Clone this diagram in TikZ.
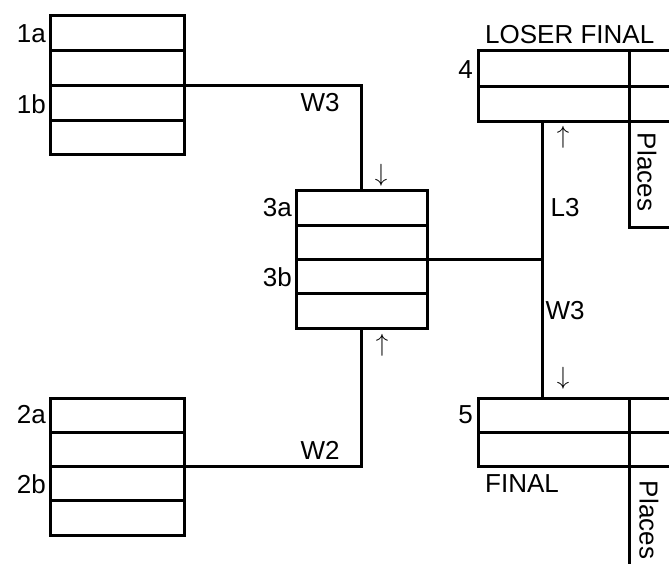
\documentclass[tikz,border=0pt]{standalone}
\usepackage{fontspec}
\setmainfont{Liberation Sans}
\usetikzlibrary{shapes.multipart, positioning}

\tikzset{
  roundbox/.style={rectangle split, rectangle split parts=4, draw, line width=3pt,
    inner sep=0pt, outer sep=0pt, anchor=north west,
    rectangle split empty part depth=0pt},
  finalbox/.style={roundbox, rectangle split parts=2, minimum width=151pt},
  placecol/.style={draw, line width=3pt, inner sep=0pt, outer sep=0pt,
    anchor=north west, minimum width=100pt},
  link/.style={line width=3pt},
  lbl/.style={inner sep=0pt}
}

\begin{document}
\begin{tikzpicture}[x=1pt, y=-1pt, font=\fontsize{26}{29}\selectfont]
    \useasboundingbox (0,0) rectangle (669,564);
    \clip (0,0) rectangle (669,564);
    % First round
    \node[roundbox, minimum width=134pt, rectangle split empty part height=31.75pt] (m1) at (50,16) {};
    \node[roundbox, minimum width=134pt, rectangle split empty part height=31.25pt] (m2) at (50,398) {};
    \node[lbl, anchor=east] (l1a) at (46,34) {1a};
    \node[lbl, anchor=east] (l1b) at (46,104) {1b};
    \node[lbl, anchor=east] (l2a) at (46,415) {2a};
    \node[lbl, anchor=east] (l2b) at (46,484) {2b};
    % Semi final
    \node[roundbox, minimum width=131pt, rectangle split empty part height=31.25pt] (m3) at (296,191) {};
    \node[lbl, anchor=east] (l3a) at (292,208) {3a};
    \node[lbl, anchor=east] (l3b) at (292,277) {3b};
    \draw[link] (m1.two split east) -| (m3.north);
    \draw[link] (m2.two split east) -| (m3.south);
    \node[lbl] (w3a) at (320,103) {W3};
    \node[lbl] (w2) at (320,450) {W2};
    \node[lbl] (ar1) at (381,175) {$\downarrow$};
    \node[lbl] (ar2) at (382,345) {$\uparrow$};
    % Loser final
    \node[finalbox, rectangle split empty part height=32.5pt] (m4) at (478,51) {};
    \node[placecol, minimum height=176pt] (p4) at (m4.north east) {};
    \draw[link] (m4.one split east) -- (m4.one split east -| p4.east);
    \draw[link] (m4.south east) -- (m4.south east -| p4.east);
    \node[lbl, anchor=south west] (t4) at (485,44) {LOSER FINAL};
    \node[lbl, anchor=east] (l4) at (473,70) {4};
    \node[lbl, rotate=-90] (pl4) at (647,172) {Places};
    % Final
    \node[finalbox, rectangle split empty part height=31pt] (m5) at (478,398) {};
    \node[placecol, minimum height=200pt] (p5) at (m5.north east) {};
    \draw[link] (m5.one split east) -- (m5.one split east -| p5.east);
    \draw[link] (m5.south east) -- (m5.south east -| p5.east);
    \node[lbl] (t5) at (522,484) {FINAL};
    \node[lbl, anchor=east] (l5) at (473,415) {5};
    \node[lbl, rotate=-90] (pl5) at (649,520) {Places};
    % Semi final to finals
    \coordinate (j) at (542,0);
    \draw[link] (m3.two split east) -- (m3.two split east -| j);
    \draw[link] (j |- m4.south) -- (j |- m5.north);
    \node[lbl] (l3) at (565,208) {L3};
    \node[lbl] (w3b) at (565,311) {W3};
    \node[lbl] (ar3) at (563,137) {$\uparrow$};
    \node[lbl] (ar4) at (563,378) {$\downarrow$};
\end{tikzpicture}
\end{document}
